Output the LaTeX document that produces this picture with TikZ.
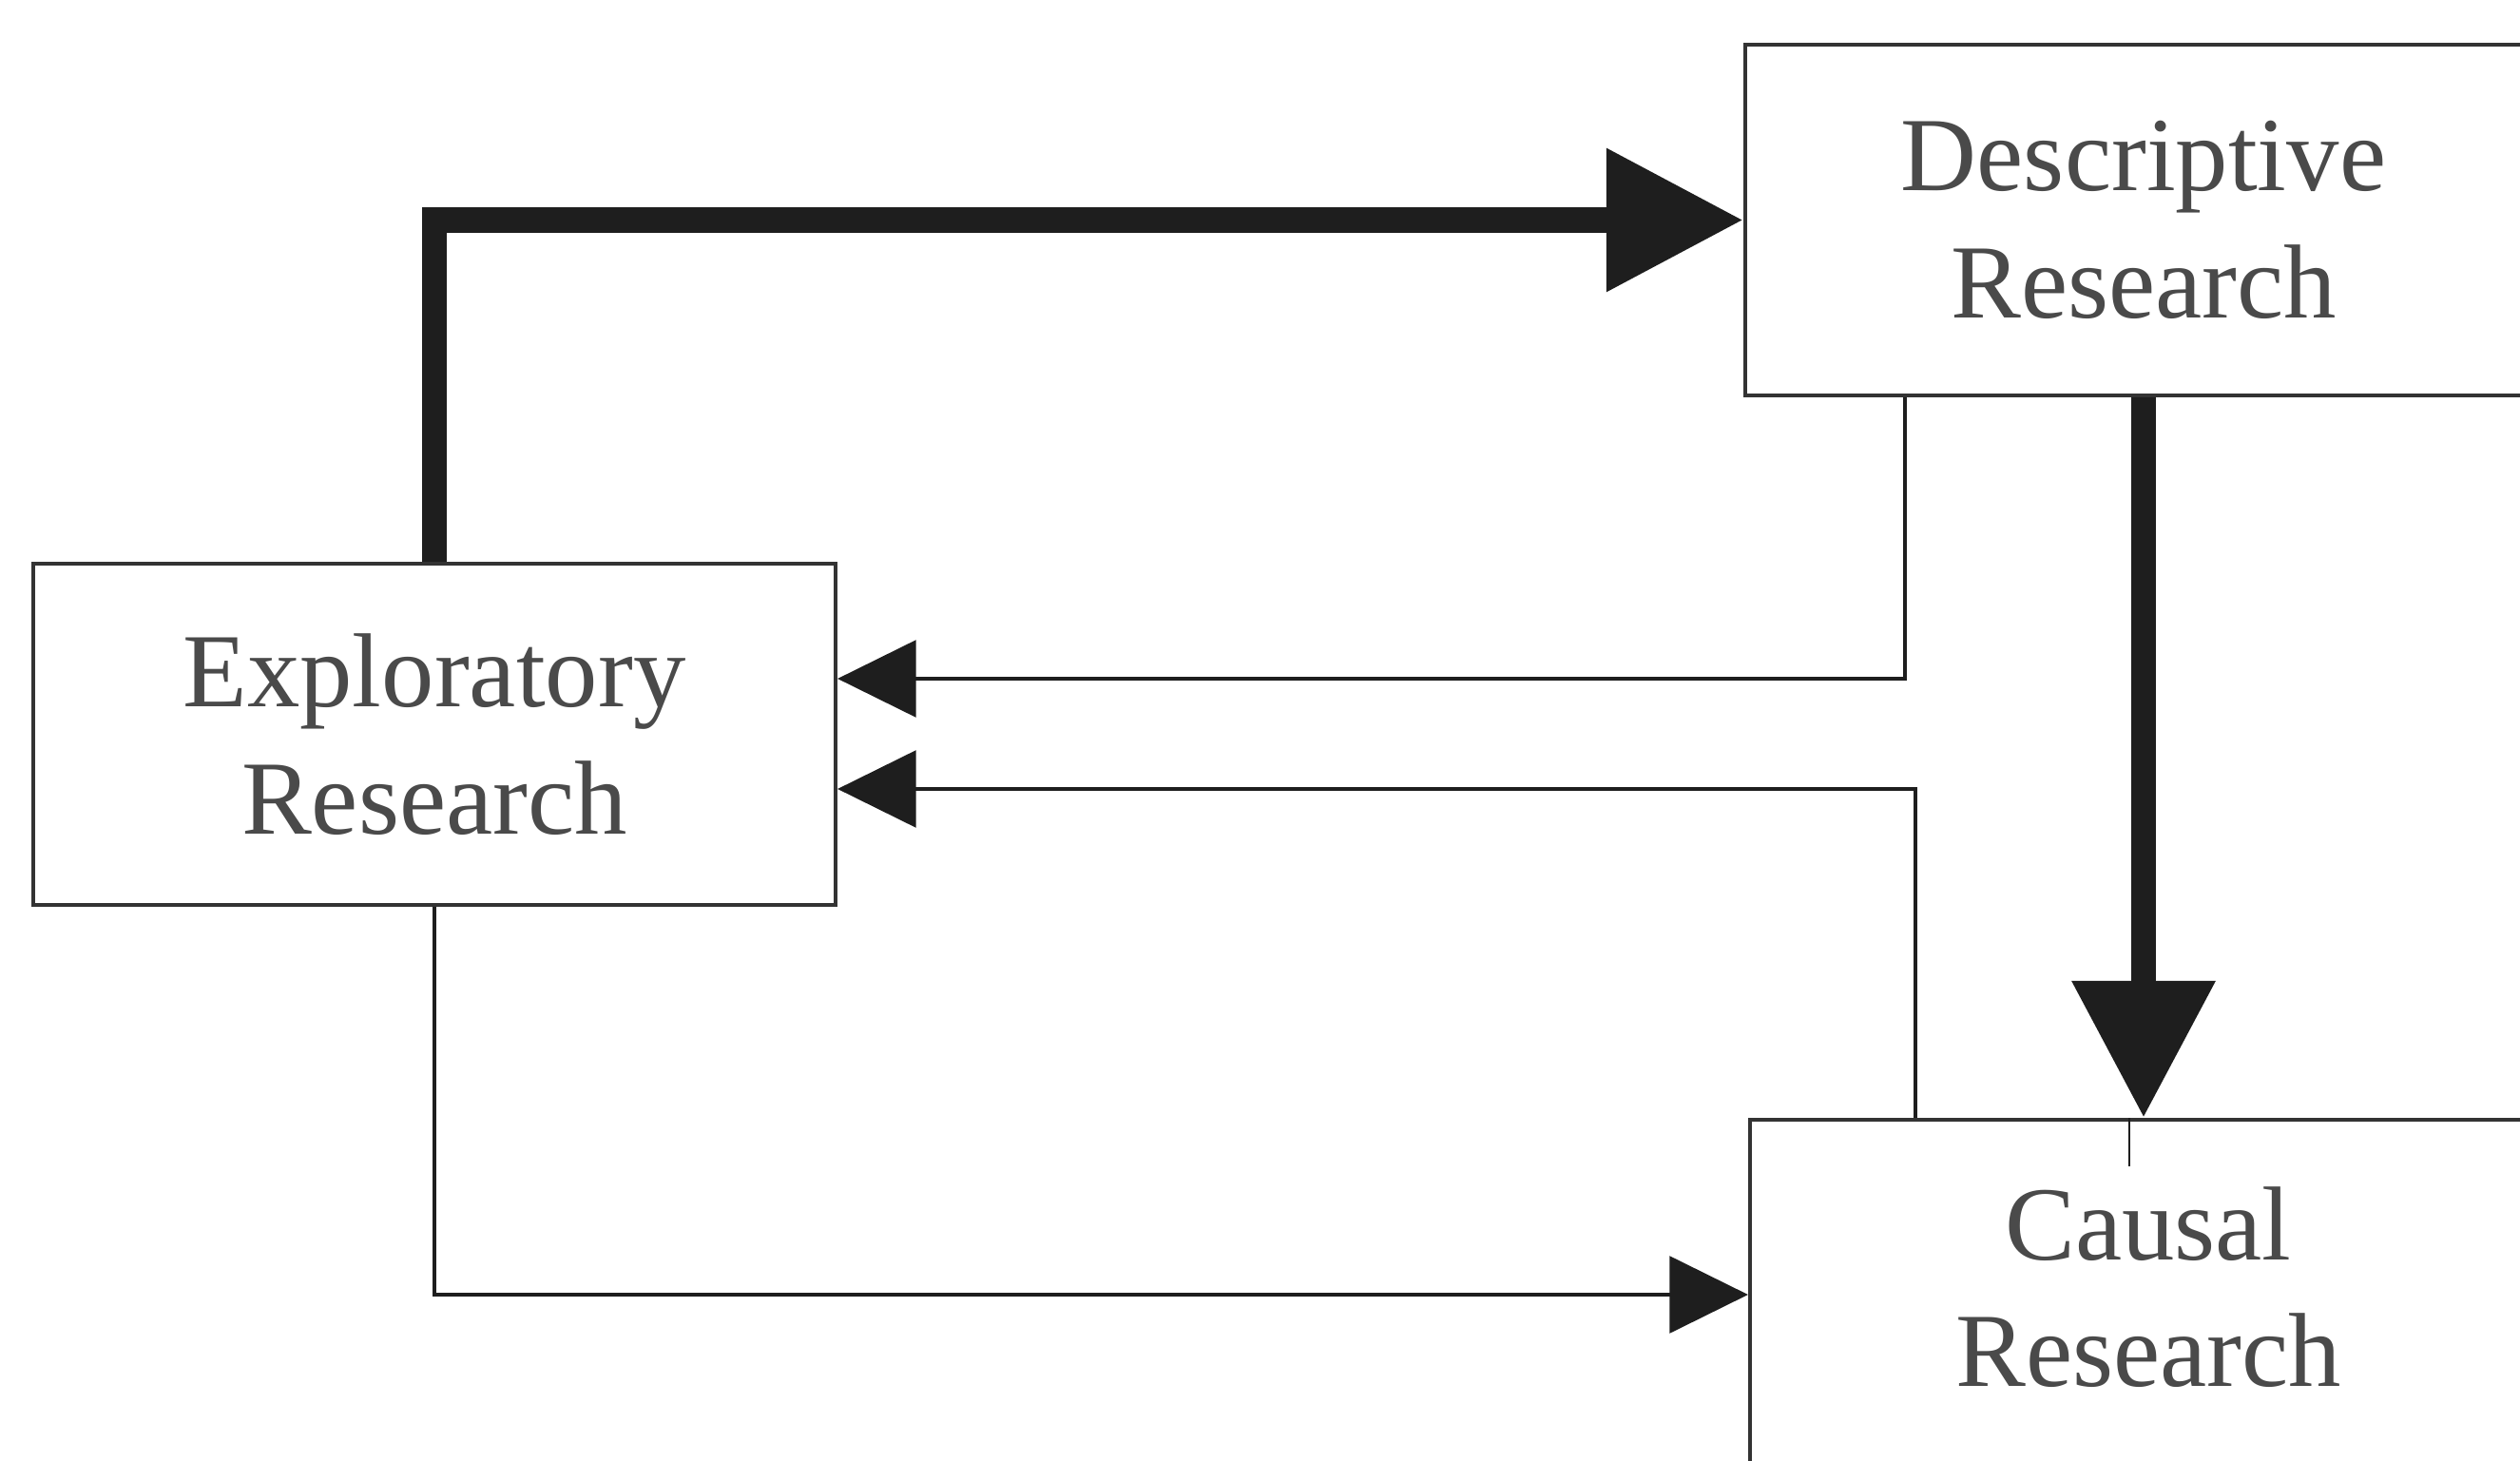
\documentclass[tikz,border=0pt]{standalone}
\usepackage{fontspec}
\setmainfont{Liberation Serif}
\usetikzlibrary{arrows.meta,calc}
\definecolor{ink}{HTML}{1E1E1E}
\definecolor{frame}{HTML}{333333}
\definecolor{txt}{HTML}{4A4A4A}
\begin{document}
\begin{tikzpicture}[
  lbl/.style={text=txt, align=center, font=\fontsize{31.5}{38}\selectfont},
  box/.style={lbl, draw=frame, line width=1.2pt, rectangle, inner sep=0pt},
  heavy/.style={draw=ink, line width=7.6pt, line join=miter, -{Triangle[length=41pt,width=41pt]}},
  light/.style={draw=ink, line width=0.9pt, -{Triangle[length=23.5pt,width=23pt]}},
]
\useasboundingbox (0,0) rectangle (26.51,-15.37);
\clip (0,0) rectangle (26.51,-15.37);
\fill[white] (0,0) rectangle (26.51,-15.37);

% the three kinds of research
\node[box, minimum width=8.44cm, minimum height=3.59cm] (expl) at (4.57,-7.725) {Exploratory\\Research};
\node[box, minimum width=8.38cm, minimum height=3.69cm] (desc) at (22.55,-2.315) {Descriptive\\Research};
\node[box, minimum width=8.38cm, minimum height=4.2cm, anchor=north] (causal) at (22.60,-11.76) {};
\node[lbl] (causaltxt) at (22.60,-13.54) {Causal\\Research};

% main sequence
\draw[heavy] (expl.north) |- (desc.west);
\draw[heavy] (desc.south) -- (desc.south |- causal.north);

% feedback and shortcut links
\coordinate (d1) at ($(desc.south west)+(1.70,0)$);
\coordinate (c1) at ($(causal.north west)+(1.76,0)$);
\coordinate (cin) at ($(causal.north west)+(0,-1.86)$);
\draw[light] (d1) |- ($(expl.east)+(0,0.585)$);
\draw[light] (c1) |- ($(expl.east)+(0,-0.575)$);
\draw[light] (expl.south) |- (cin);

% short tick under the heavy arrow tip
\coordinate (tk) at ($(causal.north)+(-0.20,0)$);
\draw[ink, line width=0.8pt] (tk) -- ++(0,-0.51);
\end{tikzpicture}
\end{document}
